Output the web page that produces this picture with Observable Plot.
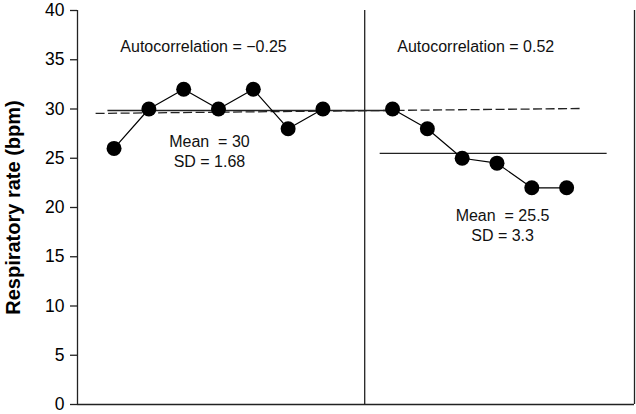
<!DOCTYPE html>
<html>
<head>
<meta charset="utf-8">
<script src="https://cdn.jsdelivr.net/npm/d3@7"></script>
<script src="https://cdn.jsdelivr.net/npm/@observablehq/plot@0.6"></script>
<style>
  html, body { margin: 0; padding: 0; background: #fff; }
  #chart svg { font-family: "Liberation Sans", Arial, sans-serif; }
  #chart text { white-space: pre; }
  g[aria-label="y-axis label"] text { font-weight: bold; font-size: 20px; }
</style>
</head>
<body>
<div id="chart"></div>
<script>
// Observation index and respiratory rate, phase A and phase B
const phaseAIndex = [1, 2, 3, 4, 5, 6, 7];
const phaseAValues = [26, 30, 32, 30, 32, 28, 30];
const phaseBIndex = [9, 10, 11, 12, 13, 14];
const phaseBValues = [30, 28, 25, 24.5, 22, 22];

// Reference lines: [x0, y0, x1, y1]
const meanALine = [0.81, 29.85, 9.0, 29.85];
const meanBLine = [8.63, 25.5, 15.15, 25.5];
const trendLine = [0.47, 29.55, 14.4, 30.05];
const phaseDivider = [8.2];

const yTicks = [0, 5, 10, 15, 20, 25, 30, 35, 40];
const xDomain = [-0.05, 15.95];

// Annotations
const annotationLabels = ["Autocorrelation = \u22120.25", "Autocorrelation = 0.52", "Mean  = 30\nSD = 1.68", "Mean  = 25.5\nSD = 3.3"];
const annotationX = [3.57, 11.39, 3.74, 12.16];
const annotationY = [36.4, 36.4, 25.76, 18.25];

const points = [
  ...phaseAIndex.map((x, i) => ({x, y: phaseAValues[i], phase: "A"})),
  ...phaseBIndex.map((x, i) => ({x, y: phaseBValues[i], phase: "B"}))
];
const annotations = annotationLabels.map((t, i) => ({t, x: annotationX[i], y: annotationY[i]}));
const seg = (s) => ({x1: s[0], y1: s[1], x2: s[2], y2: s[3]});

const chart = Plot.plot({
  width: 636,
  height: 414,
  marginLeft: 77,
  marginRight: 2,
  marginTop: 10,
  marginBottom: 10,
  style: {fontFamily: "Liberation Sans, Arial, sans-serif", color: "#000", background: "#fff"},
  x: {domain: xDomain, axis: null},
  y: {domain: [0, 40]},
  marks: [
    Plot.axisY({
      ticks: yTicks,
      tickSize: 7,
      tickPadding: 6,
      fontSize: 17.5,
      stroke: "#222",
      strokeWidth: 1.3,
      label: "Respiratory rate (bpm)",
      labelAnchor: "center",
      labelArrow: "none",
      labelOffset: 72
    }),
    Plot.ruleX([xDomain[0], ...phaseDivider, xDomain[1]], {y1: 0, y2: 40, stroke: "#222", strokeWidth: 1.3}),
    Plot.ruleY([0], {stroke: "#222", strokeWidth: 1.3}),
    Plot.link([seg(trendLine)], {x1: "x1", y1: "y1", x2: "x2", y2: "y2", stroke: "#222", strokeWidth: 1.3, strokeDasharray: "9,3.5"}),
    Plot.link([seg(meanALine), seg(meanBLine)], {x1: "x1", y1: "y1", x2: "x2", y2: "y2", stroke: "#222", strokeWidth: 1.3}),
    Plot.line(points, {x: "x", y: "y", z: "phase", stroke: "#000", strokeWidth: 1.2}),
    Plot.dot(points, {x: "x", y: "y", r: 7.5, fill: "#000", stroke: "none"}),
    Plot.text(annotations, {x: "x", y: "y", text: "t", fontSize: 16, lineHeight: 1.25, fill: "#111", textAnchor: "middle"})
  ]
});
document.getElementById("chart").appendChild(chart);
</script>
</body>
</html>
